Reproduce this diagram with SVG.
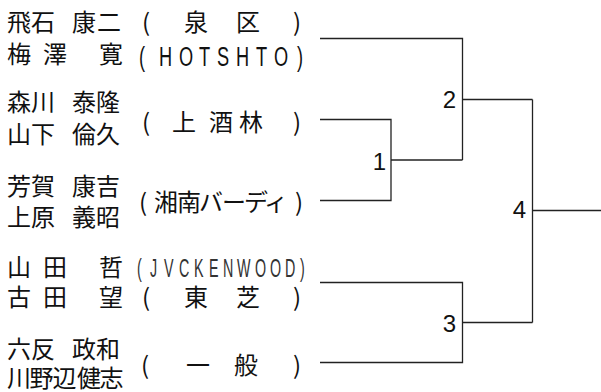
<svg xmlns="http://www.w3.org/2000/svg" width="601" height="392" viewBox="0 0 601 392">
<style>
  .jp { font-family: "Noto Sans CJK JP", "Noto Sans", sans-serif; font-size: 24px; fill: #111; }
  .lat { font-family: "Liberation Sans", Arial, sans-serif; font-size: 28px; fill: #111; }
  .lat2 { font-family: "Liberation Sans", Arial, sans-serif; font-size: 26px; fill: #333; }
  .num { font-family: "Liberation Sans", Arial, sans-serif; font-size: 24px; fill: #111; text-anchor: end; }
  .ln { fill: none; stroke: #222; stroke-width: 1.3; }
</style>
<rect width="601" height="392" fill="#fff"/>
<g id="team-izumi">
  <text class="jp" x="7 31 72 97" y="31">飛石康二</text>
  <text class="jp" x="7 43 99" y="63">梅澤寛</text>
  <text class="jp" x="142 184 236 293" y="31">(泉区)</text>
  <text class="lat" transform="scale(0.65,1)" x="213.8 244.6 275.4 306.2 333.8 363.1 393.8 421.5 456.9" y="66">(HOTSHTO)</text>
</g>
<g id="team-kamisakebayashi">
  <text class="jp" x="7 31 72 96" y="111">森川泰隆</text>
  <text class="jp" x="7 31 72 96" y="143">山下倫久</text>
  <text class="jp" x="142 172 209 239 293" y="131">(上酒林)</text>
</g>
<g id="team-shonan">
  <text class="jp" x="7 31 72 96" y="195">芳賀康吉</text>
  <text class="jp" x="7 31 72 96" y="226">上原義昭</text>
  <text class="jp" x="139 154 177 199 222 244 264 295" y="211">(湘南バーディ)</text>
</g>
<g id="team-toshiba">
  <text class="jp" x="7 43 99" y="276">山田哲</text>
  <text class="lat2" transform="scale(0.55,1)" x="249.1 272.7 298.2 325.5 352.7 380 405.5 430.9 463.6 490.9 518.2 545.5" y="277">(JVCKENWOOD)</text>
  <text class="jp" x="7 43 99" y="306">古田望</text>
  <text class="jp" x="142 184 236 293" y="306">(東芝)</text>
</g>
<g id="team-ippan">
  <text class="jp" x="7 31 72 96" y="358">六反政和</text>
  <text class="jp" x="7 29.5 52.5 77 99.5" y="387">川野辺健志</text>
  <text class="jp" x="141 186 234 293" y="374">(一般)</text>
</g>
<g id="connectors">
  <path class="ln" d="M320 38.5 H462.5 V160"/>
  <path class="ln" d="M320 119.5 H391 V200.5 H320"/>
  <path class="ln" d="M391 160 H462.5"/>
  <path class="ln" d="M462.5 99.5 H532.5"/>
  <path class="ln" d="M320 282.5 H462.5 V362.5 H320"/>
  <path class="ln" d="M462.5 322.5 H532.5"/>
  <path class="ln" d="M532.5 99.5 V322.5"/>
  <path class="ln" d="M532.5 210.5 H601"/>
</g>
<g id="match-1"><text class="num" x="386" y="170">1</text></g>
<g id="match-2"><text class="num" x="456" y="108">2</text></g>
<g id="match-3"><text class="num" x="456" y="332">3</text></g>
<g id="match-4"><text class="num" x="526" y="218">4</text></g>
</svg>
